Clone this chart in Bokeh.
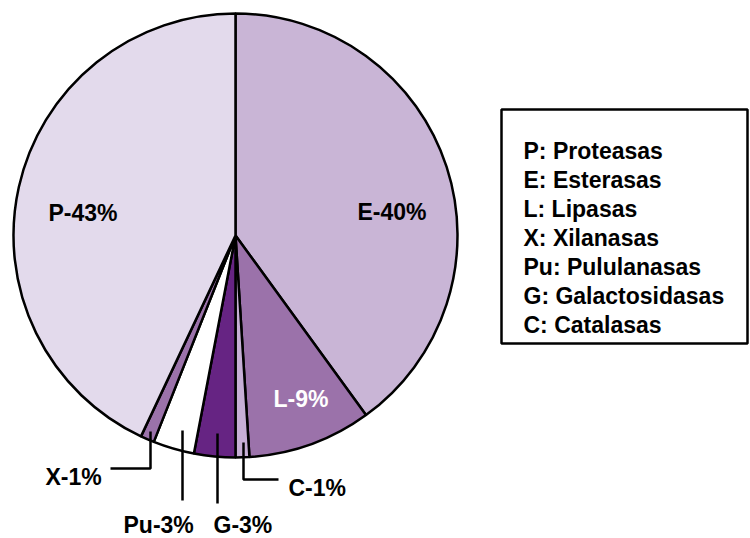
import numpy as np
from bokeh.plotting import figure
from bokeh.models import ColumnDataSource, Range1d
from bokeh.core.properties import value
from bokeh.embed import file_html
from bokeh.resources import INLINE

# ---- data (clockwise from 12 o'clock) ----
codes = ["E", "L", "C", "G", "Pu", "X", "P"]
percents = [40, 9, 1, 3, 3, 1, 43]
colors = ["#C9B5D6", "#9B72AA", "#C7AFD6", "#662483", "#FFFFFF", "#9B72AA", "#E3DAEC"]
legend_labels = ["P: Proteasas", "E: Esterasas", "L: Lipasas", "X: Xilanasas",
                 "Pu: Pululanasas", "G: Galactosidasas", "C: Catalasas"]

W, H = 750, 538
FONT = value("Liberation Sans")


def fx(x):
    return x


def fy(y):
    return H - y


p = figure(width=W, height=H, output_backend="svg", toolbar_location=None,
           x_range=Range1d(0, W), y_range=Range1d(0, H), min_border=0)
p.axis.visible = False
p.grid.visible = False
p.outline_line_color = None
p.background_fill_color = "white"

# pie
vals = np.array(percents, dtype=float)
frac = vals / vals.sum()
cum = np.concatenate([[0.0], np.cumsum(frac)])
start = np.pi / 2 - cum[1:] * 2 * np.pi
end = np.pi / 2 - cum[:-1] * 2 * np.pi
cx, cy, R = fx(235), fy(235), 222
src = ColumnDataSource(dict(start=start, end=end, color=colors,
                            x=[cx] * len(codes), y=[cy] * len(codes)))
p.wedge(x="x", y="y", radius=R, start_angle="start", end_angle="end",
        fill_color="color", line_color="black", line_width=2.5, source=src)

# slice labels
lab = {c: f"{c}-{v}%" for c, v in zip(codes, percents)}
label_pos = {  # left x, baseline y (image pixels)
    "E": (357, 211), "P": (48, 212), "L": (273, 398), "X": (45, 476),
    "Pu": (123, 524), "G": (213, 524), "C": (288, 487),
}
for c in codes:
    lx, ly = label_pos[c]
    p.text(x=[fx(lx)], y=[fy(ly)], text=[lab[c]], text_font=FONT,
           text_font_size="23px", text_font_style="bold",
           text_color="white" if c == "L" else "black",
           text_align="left", text_baseline="alphabetic")

# leader lines (image pixels)
leaders = [
    [(110, 468), (150, 468), (150, 431)],   # X
    [(182, 500), (182, 430)],               # Pu
    [(217, 503), (217, 433)],               # G
    [(278, 479), (243, 479), (243, 442)],   # C
]
for pts in leaders:
    p.line([fx(a) for a, b in pts], [fy(b) for a, b in pts],
           line_color="black", line_width=2.5)

# legend box
p.quad(left=[fx(501)], right=[fx(747)], top=[fy(109)], bottom=[fy(343)],
       fill_color="white", line_color="black", line_width=2.5)
for i, t in enumerate(legend_labels):
    p.text(x=[fx(523)], y=[fy(150 + 29 * i)], text=[t], text_font=FONT,
           text_font_size="23px", text_font_style="bold", text_color="black",
           text_align="left", text_baseline="alphabetic")

open("out.html", "w").write(file_html(p, INLINE))
